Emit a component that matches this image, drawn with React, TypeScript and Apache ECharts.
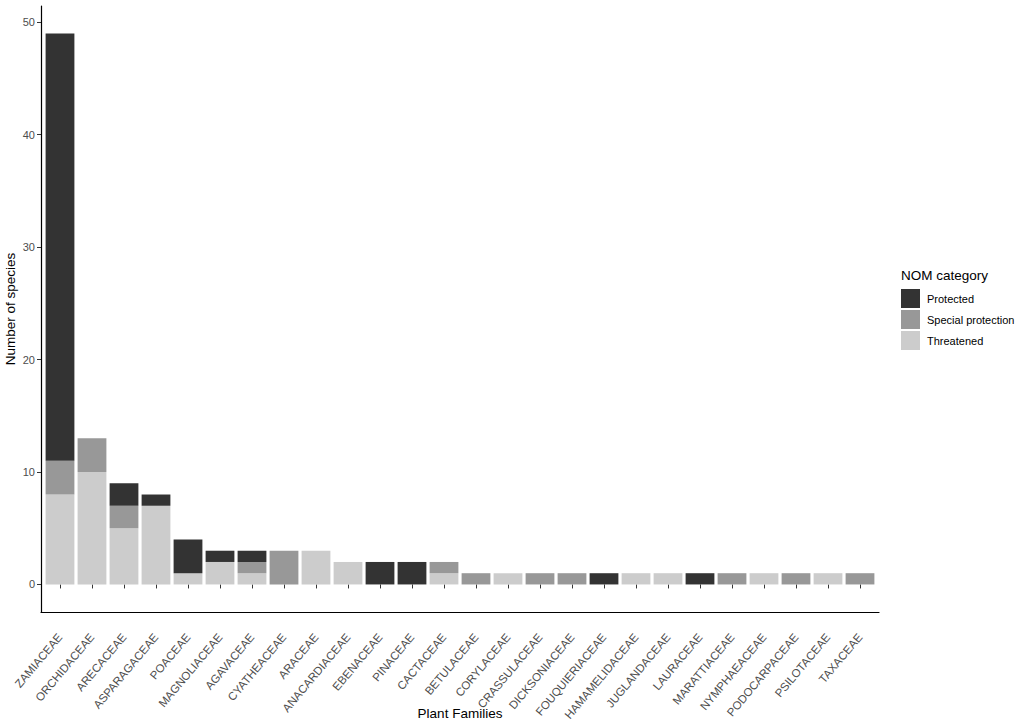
import React, { useEffect, useRef } from "react";
import * as echarts from "echarts";

const categories = [
  "ZAMIACEAE", "ORCHIDACEAE", "ARECACEAE", "ASPARAGACEAE", "POACEAE", "MAGNOLIACEAE",
  "AGAVACEAE", "CYATHEACEAE", "ARACEAE", "ANACARDIACEAE", "EBENACEAE", "PINACEAE",
  "CACTACEAE", "BETULACEAE", "CORYLACEAE", "CRASSULACEAE", "DICKSONIACEAE",
  "FOUQUIERIACEAE", "HAMAMELIDACEAE", "JUGLANDACEAE", "LAURACEAE", "MARATTIACEAE",
  "NYMPHAEACEAE", "PODOCARPACEAE", "PSILOTACEAE", "TAXACEAE",
];
const threatened = [8, 10, 5, 7, 1, 2, 1, 0, 3, 2, 0, 0, 1, 0, 1, 0, 0, 0, 1, 1, 0, 0, 1, 0, 1, 0];
const special = [3, 3, 2, 0, 0, 0, 1, 3, 0, 0, 0, 0, 1, 1, 0, 1, 1, 0, 0, 0, 0, 1, 0, 1, 0, 1];
const protectedVals = [38, 0, 2, 1, 3, 1, 1, 0, 0, 0, 2, 2, 0, 0, 0, 0, 0, 1, 0, 0, 1, 0, 0, 0, 0, 0];
const yTicks = [0, 10, 20, 30, 40, 50];
const legendOrder = ["Protected", "Special protection", "Threatened"];

const FONT = "Liberation Sans, Arial, sans-serif";

export default function App() {
  const ref = useRef<HTMLDivElement>(null);
  useEffect(() => {
    if (!ref.current) return;
    const chart = echarts.init(ref.current, undefined, { renderer: "svg" });
    const barSeries = (name: string, data: number[], color: string) => ({
      name,
      type: "bar",
      stack: "total",
      xAxisIndex: 0,
      yAxisIndex: 0,
      data,
      barCategoryGap: "10%",
      itemStyle: { color },
    });
    chart.setOption({
      animation: false,
      backgroundColor: "#ffffff",
      textStyle: { fontFamily: FONT },
      title: {
        text: "NOM category",
        left: 901,
        top: 268,
        padding: 0,
        textStyle: { fontSize: 13.5, fontWeight: "normal", color: "#000000", fontFamily: FONT },
      },
      legend: {
        data: legendOrder,
        orient: "vertical",
        left: 901,
        top: 289,
        padding: 0,
        itemWidth: 19,
        itemHeight: 19,
        itemGap: 2,
        icon: "rect",
        textStyle: { fontSize: 11, color: "#000000", fontFamily: FONT, padding: [0, 0, 0, 2] },
      },
      grid: [
        { left: 44, right: 150, top: 6, bottom: 114, containLabel: false, outerBoundsMode: "none" },
        { left: 41, right: 147, top: 6, bottom: 114, containLabel: false, outerBoundsMode: "none" },
      ],
      xAxis: [
        {
          type: "category",
          gridIndex: 0,
          data: categories,
          axisLine: { show: false },
          axisTick: { show: true, alignWithLabel: true, length: 4, lineStyle: { color: "#333333", width: 1 } },
          axisLabel: { rotate: 50, fontSize: 11.5, color: "#4d4d4d", margin: 23, interval: 0, fontFamily: FONT },
          name: "Plant Families",
          nameLocation: "middle",
          nameGap: 94,
          nameMoveOverlap: false,
          nameTextStyle: { fontSize: 13.5, color: "#000000", verticalAlign: "top", fontFamily: FONT },
        },
        {
          type: "value",
          gridIndex: 1,
          min: 0,
          max: 1,
          axisLine: { show: true, onZero: false, lineStyle: { color: "#000000", width: 1.2 } },
          axisTick: { show: false },
          axisLabel: { show: false },
          splitLine: { show: false },
        },
      ],
      yAxis: [
        {
          type: "value",
          gridIndex: 0,
          min: -2.45,
          max: 51.45,
          offset: 3,
          axisLine: { show: false },
          axisTick: { show: true, length: 4, customValues: yTicks, lineStyle: { color: "#333333", width: 1 } },
          axisLabel: { fontSize: 11, color: "#4d4d4d", margin: 6, customValues: yTicks, fontFamily: FONT },
          splitLine: { show: false },
          name: "Number of species",
          nameLocation: "middle",
          nameGap: 24,
          nameMoveOverlap: false,
          nameTextStyle: { fontSize: 13.5, color: "#000000", fontFamily: FONT },
        },
        {
          type: "value",
          gridIndex: 1,
          min: 0,
          max: 1,
          axisLine: { show: true, onZero: false, lineStyle: { color: "#000000", width: 1.2 } },
          axisTick: { show: false },
          axisLabel: { show: false },
          splitLine: { show: false },
        },
      ],
      series: [
        barSeries("Threatened", threatened, "#cccccc"),
        barSeries("Special protection", special, "#989898"),
        barSeries("Protected", protectedVals, "#333333"),
      ],
    });
    return () => chart.dispose();
  }, []);
  return (
    <div
      ref={ref}
      style={{ position: "fixed", left: 0, top: 0, width: 1026, height: 726 }}
    />
  );
}
